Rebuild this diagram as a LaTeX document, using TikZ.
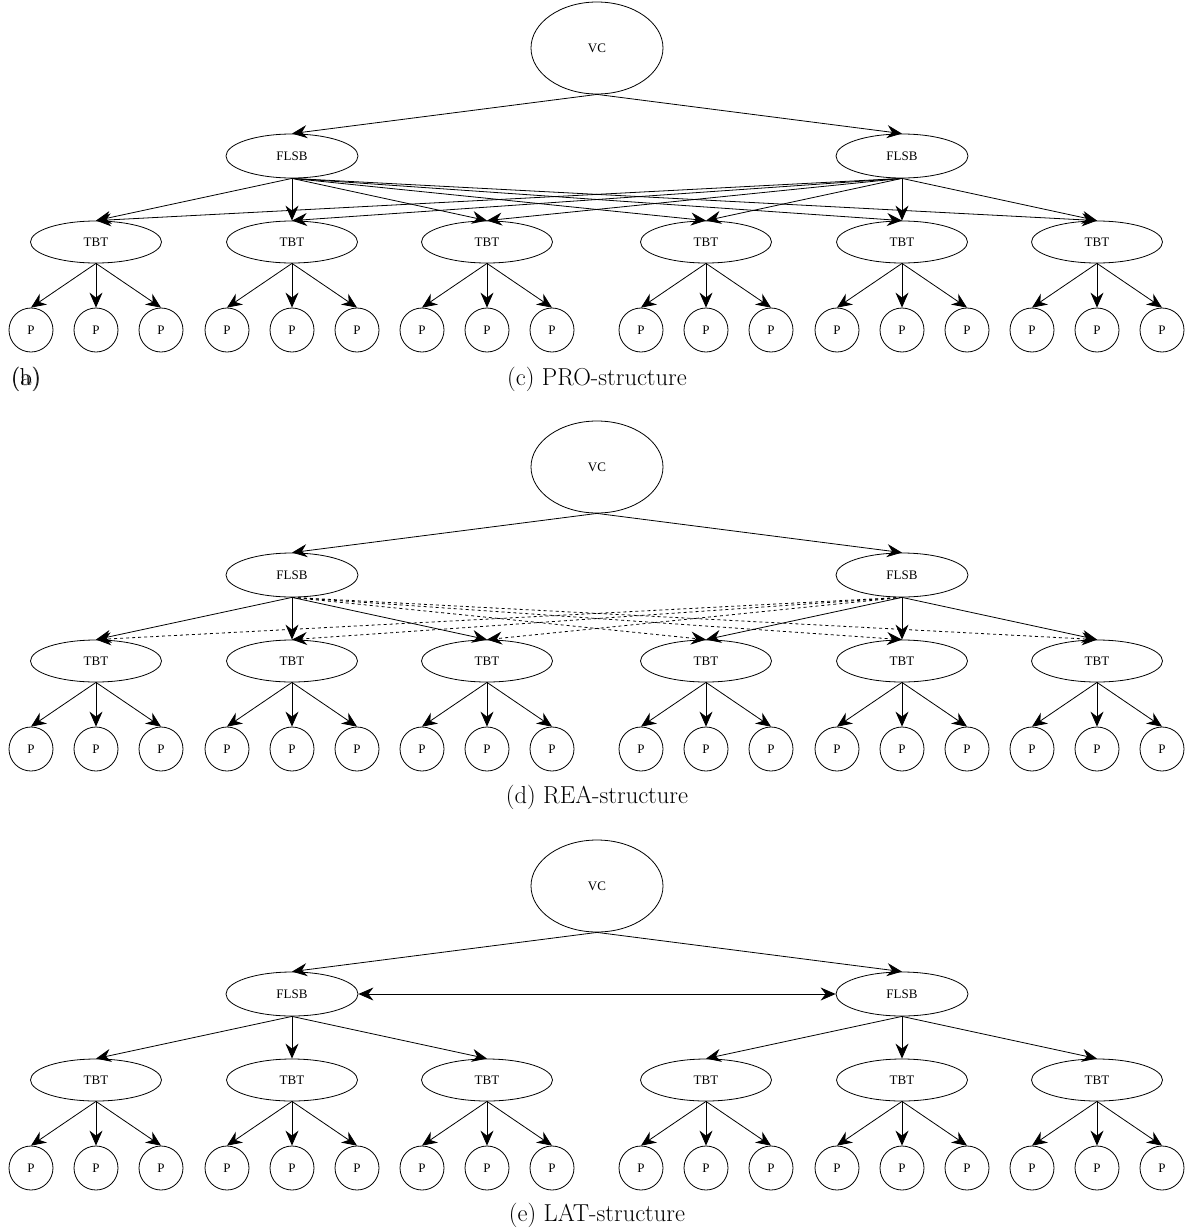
\documentclass[tikz,border=0pt]{standalone}
\usepackage{fontspec}
\newfontfamily\labfont{Liberation Serif}
\usetikzlibrary{shapes.geometric,arrows.meta}
\begin{document}
\begin{tikzpicture}[x=1pt,y=-1pt,
 el/.style={draw, ellipse, line width=0.8pt, inner sep=0pt, font=\labfont\fontsize{13}{15}\selectfont},
 vcn/.style={el, minimum width=132pt, minimum height=92pt},
 fln/.style={el, minimum width=132pt, minimum height=44pt},
 tbn/.style={el, minimum width=131pt, minimum height=42pt},
 pn/.style={draw, circle, line width=0.8pt, inner sep=0pt, minimum size=44pt, font=\labfont\fontsize{13}{15}\selectfont},
 ar/.style={-{Stealth[length=15pt,width=13pt,inset=5pt]}, line width=0.8pt},
 dar/.style={ar, dash pattern=on 3pt off 3pt},
 captext/.style={font=\fontsize{24.5}{29}\selectfont}]
\useasboundingbox (0,0) rectangle (1190,1231);
\foreach \k/\oy in {c/0, d/419, e/838} {
  \node[vcn] (\k vc) at (597,48+\oy) {VC};
  \node[fln] (\k f1) at (292,156+\oy) {FLSB};
  \node[fln] (\k f2) at (902,156+\oy) {FLSB};
  \foreach \i/\x in {1/96,2/292,3/487,4/706,5/902,6/1097} {
    \node[tbn] (\k t\i) at (\x,242+\oy) {TBT};
    \foreach \j/\dx in {1/-65,2/0,3/65} {
      \node[pn] (\k p\i\j) at (\x+\dx,330+\oy) {P};
      \draw[ar] (\k t\i.south) -- (\k p\i\j.north);
    }
  }
  \draw[ar] (\k vc.south) -- (\k f1.north);
  \draw[ar] (\k vc.south) -- (\k f2.north);
}
% (c) PRO
\foreach \f in {1,2} \foreach \i in {1,...,6} \draw[ar] (cf\f.south) -- (ct\i.north);
% (d) REA
\foreach \i in {1,2,3} {
  \draw[ar] (df1.south) -- (dt\i.north);
  \draw[dar] (df2.south) -- (dt\i.north);
}
\foreach \i in {4,5,6} {
  \draw[ar] (df2.south) -- (dt\i.north);
  \draw[dar] (df1.south) -- (dt\i.north);
}
% (e) LAT
\foreach \i in {1,2,3} \draw[ar] (ef1.south) -- (et\i.north);
\foreach \i in {4,5,6} \draw[ar] (ef2.south) -- (et\i.north);
\draw[line width=0.8pt, {Stealth[length=15pt,width=13pt,inset=5pt]}-{Stealth[length=15pt,width=13pt,inset=5pt]}] (ef1.east) -- (ef2.west);
% captions
\node[captext] (capc) at (597,379) {(c) PRO-structure};
\node[captext] (capa) at (26,379) {(a)};
\node[captext] (capb) at (26,379) {(b)};
\node[captext] (capd) at (597,797) {(d) REA-structure};
\node[captext] (cape) at (597,1215) {(e) LAT-structure};
\end{tikzpicture}
\end{document}
